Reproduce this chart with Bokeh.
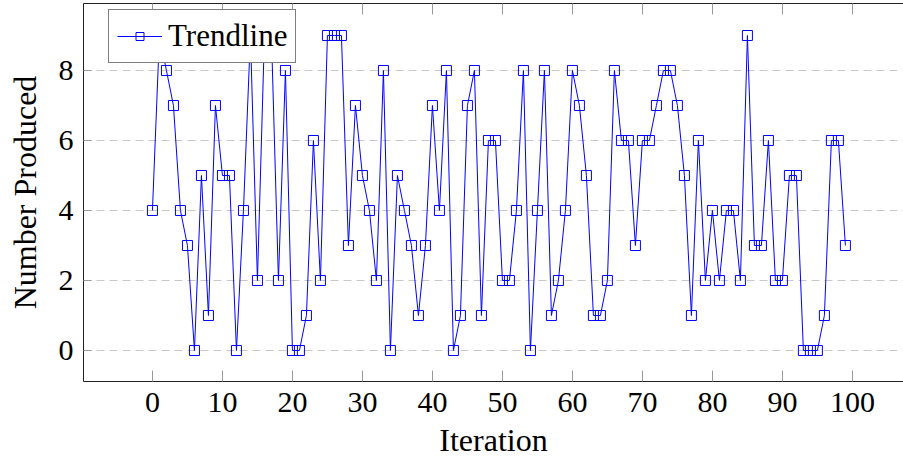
from bokeh.plotting import figure
from bokeh.models import Range1d, FixedTicker, LinearAxis
from bokeh.embed import file_html
from bokeh.resources import INLINE

iterations = list(range(100))
produced = [
    4, 9, 8, 7, 4, 3, 0, 5, 1, 7,
    5, 5, 0, 4, 9, 2, 9, 9, 2, 8,
    0, 0, 1, 6, 2, 9, 9, 9, 3, 7,
    5, 4, 2, 8, 0, 5, 4, 3, 1, 3,
    7, 4, 8, 0, 1, 7, 8, 1, 6, 6,
    2, 2, 4, 8, 0, 4, 8, 1, 2, 4,
    8, 7, 5, 1, 1, 2, 8, 6, 6, 3,
    6, 6, 7, 8, 8, 7, 5, 1, 6, 2,
    4, 2, 4, 4, 2, 9, 3, 3, 6, 2,
    2, 5, 5, 0, 0, 0, 1, 6, 6, 3,
]
x_ticks = [0, 10, 20, 30, 40, 50, 60, 70, 80, 90, 100]
y_ticks = [0, 2, 4, 6, 8]
series_name = "Trendline"
x_title = "Iteration"
y_title = "Number Produced"

FONT = "Liberation Serif"
BLUE = "#0000ff"

p = figure(
    frame_width=820, frame_height=378,
    output_backend="svg", toolbar_location=None,
    x_range=Range1d(-9.85, 107.3), y_range=Range1d(-0.886, 9.914),
    min_border_left=83, min_border_right=0, min_border_top=3, min_border_bottom=71,
)
p.outline_line_color = None
p.background_fill_color = "white"
p.border_fill_color = "white"

p.line(iterations, produced, line_color=BLUE, line_width=1, legend_label=series_name)
p.scatter(iterations, produced, marker="square", size=10, line_color=BLUE,
          fill_color="white", fill_alpha=0, line_width=1, legend_label=series_name)

for ax in p.xaxis + p.yaxis:
    ax.major_label_text_font = FONT
    ax.major_label_text_font_size = "30px"
    ax.major_label_text_color = "black"
    ax.axis_label_text_font = FONT
    ax.axis_label_text_font_size = "32px"
    ax.axis_label_text_font_style = "normal"
    ax.axis_label_text_color = "black"
    ax.major_tick_in = 11
    ax.major_tick_out = 0
    ax.major_tick_line_color = "#9a9a9a"
    ax.minor_tick_line_color = None
    ax.axis_line_color = "#222222"

p.xaxis.ticker = FixedTicker(ticks=x_ticks)
p.yaxis.ticker = FixedTicker(ticks=y_ticks)
p.xaxis.axis_label = x_title
p.yaxis.axis_label = y_title
p.xaxis.major_label_standoff = 11
p.xaxis.axis_label_standoff = 7
p.yaxis.major_label_standoff = 10
p.yaxis.axis_label_standoff = 13
p.yaxis.major_tick_in = 8

top = LinearAxis(ticker=FixedTicker(ticks=x_ticks),
                 major_label_overrides={t: "" for t in x_ticks},
                 major_label_text_font_size="1px",
                 major_tick_in=11, major_tick_out=0, major_label_standoff=0,
                 major_tick_line_color="#9a9a9a", minor_tick_line_color=None,
                 axis_line_color="#222222")
p.add_layout(top, "above")

p.xgrid.visible = False
p.ygrid.ticker = FixedTicker(ticks=y_ticks)
p.ygrid.grid_line_color = "#c8c8c8"
p.ygrid.grid_line_dash = "8 5"
p.ygrid.grid_line_width = 1

lg = p.legend[0]
lg.location = (25, 318)
lg.label_text_font = FONT
lg.label_text_font_size = "31px"
lg.label_text_color = "black"
lg.border_line_color = "black"
lg.border_line_width = 1
lg.background_fill_alpha = 1
lg.glyph_width = 45
lg.label_standoff = 6
lg.padding = 8
lg.margin = 0
lg.spacing = 0

open("out.html", "w").write(file_html(p, INLINE))
